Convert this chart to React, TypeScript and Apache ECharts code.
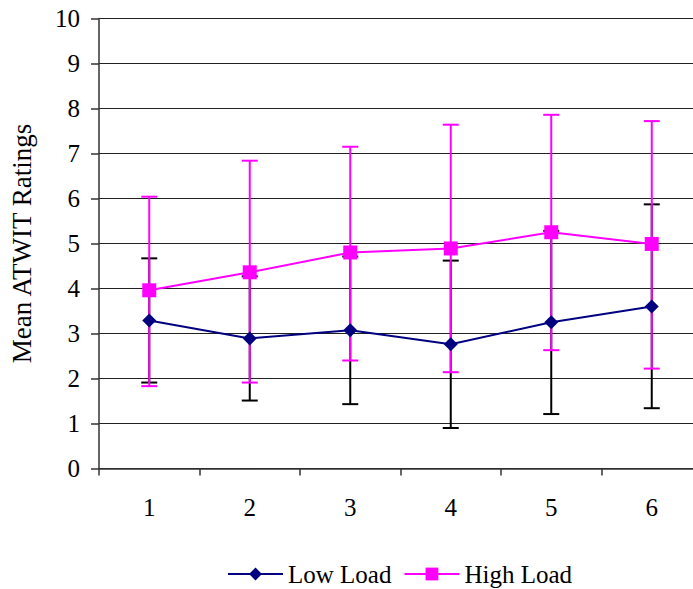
import React, { useEffect, useRef } from "react";
import * as echarts from "echarts";

const categories = ["1", "2", "3", "4", "5", "6"];
const lowLoad = [3.29, 2.89, 3.07, 2.76, 3.25, 3.6];
const highLoad = [3.96, 4.36, 4.8, 4.89, 5.25, 4.99];
const lowUpper = [4.67, 4.27, 4.71, 4.62, 5.28, 5.87];
const lowLower = [1.91, 1.51, 1.43, 0.9, 1.21, 1.34];
const highUpper = [6.04, 6.84, 7.15, 7.64, 7.86, 7.72];
const highLower = [1.83, 1.91, 2.4, 2.14, 2.63, 2.22];

const FONT = "'Liberation Serif', 'Times New Roman', serif";

function errRender(color: string) {
  return (params: any, api: any) => {
    const idx = api.value(0);
    const lo = api.coord([idx, api.value(1)]);
    const hi = api.coord([idx, api.value(2)]);
    const hw = 8;
    const style = { stroke: color, lineWidth: 2 };
    return {
      type: "group",
      children: [
        { type: "line", shape: { x1: lo[0], y1: lo[1], x2: hi[0], y2: hi[1] }, style },
        { type: "line", shape: { x1: lo[0] - hw, y1: lo[1], x2: lo[0] + hw, y2: lo[1] }, style },
        { type: "line", shape: { x1: hi[0] - hw, y1: hi[1], x2: hi[0] + hw, y2: hi[1] }, style },
      ],
    };
  };
}

export default function App() {
  const ref = useRef<HTMLDivElement>(null);
  useEffect(() => {
    if (!ref.current) return;
    const chart = echarts.init(ref.current, undefined, { renderer: "svg" });
    chart.setOption({
      animation: false,
      backgroundColor: "#ffffff",
      textStyle: { fontFamily: FONT },
      grid: { left: 95, top: 18.5, width: 607, height: 450, containLabel: false },
      legend: {
        data: ["Low Load", "High Load"],
        left: 222,
        top: 555,
        itemWidth: 55,
        itemHeight: 16,
        itemGap: 12,
        textStyle: { fontFamily: FONT, fontSize: 25, color: "#000", lineHeight: 28 },
      },
      xAxis: {
        type: "category",
        data: categories,
        boundaryGap: true,
        axisLine: { lineStyle: { color: "#333", width: 1.5 } },
        axisTick: { show: true, length: 7, lineStyle: { color: "#333", width: 1.5 } },
        axisLabel: { fontFamily: FONT, fontSize: 25, color: "#000", margin: 26 },
        splitLine: { show: false },
      },
      yAxis: {
        type: "value",
        min: 0,
        max: 10,
        interval: 1,
        name: "Mean ATWIT Ratings",
        nameLocation: "middle",
        nameRotate: 90,
        nameGap: 64,
        nameTextStyle: { fontFamily: FONT, fontSize: 27, color: "#000" },
        axisLine: { show: true, lineStyle: { color: "#333", width: 1.5 } },
        axisTick: { show: true, length: 8, lineStyle: { color: "#333", width: 1.5 } },
        axisLabel: { fontFamily: FONT, fontSize: 25, color: "#000", margin: 19 },
        splitLine: { show: true, lineStyle: { color: "#222", width: 1.2 } },
      },
      series: [
        {
          type: "custom",
          name: "lowErr",
          renderItem: errRender("#000000"),
          data: categories.map((_, i) => [i, lowLower[i], lowUpper[i]]),
          encode: { x: 0, y: [1, 2] },
          z: 1,
        },
        {
          type: "custom",
          name: "highErr",
          renderItem: errRender("#FF00FF"),
          data: categories.map((_, i) => [i, highLower[i], highUpper[i]]),
          encode: { x: 0, y: [1, 2] },
          z: 2,
        },
        {
          type: "line",
          name: "High Load",
          data: highLoad,
          symbol: "rect",
          symbolSize: 14,
          color: "#FF00FF",
          lineStyle: { color: "#FF00FF", width: 2 },
          itemStyle: { color: "#FF00FF" },
          z: 3,
        },
        {
          type: "line",
          name: "Low Load",
          data: lowLoad,
          symbol: "diamond",
          symbolSize: 14,
          color: "#000080",
          lineStyle: { color: "#000080", width: 2 },
          itemStyle: { color: "#000080" },
          z: 4,
        },
      ],
    });
    return () => chart.dispose();
  }, []);
  return (
    <div
      ref={ref}
      style={{ position: "fixed", left: 0, top: 0, width: 710, height: 589, background: "#fff" }}
    />
  );
}
